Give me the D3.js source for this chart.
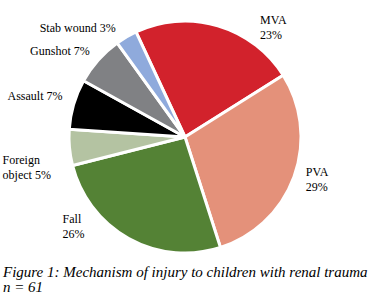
<!DOCTYPE html>
<html>
<head>
<meta charset="utf-8">
<script src="https://cdn.jsdelivr.net/npm/d3@7"></script>
<style>
  body { margin: 0; background: #fff; }
</style>
</head>
<body>
<div id="chart"></div>
<script>
// categories and their shares (%), clockwise from MVA
const categories = ["MVA", "PVA", "Fall", "Foreign object", "Assault", "Gunshot", "Stab wound"];
const shares = [23, 29, 26, 5, 7, 7, 3];
const labelLines = [
    ["MVA", "23%"],
    ["PVA", "29%"],
    ["Fall", "26%"],
    ["Foreign", "object 5%"],
    ["Assault 7%"],
    ["Gunshot 7%"],
    ["Stab wound 3%"],
];
const captionLines = ["Figure 1: Mechanism of injury to children with renal trauma", "n = 61"];

const colors = ["#d2222c", "#e4917a", "#548235", "#b4c3a2", "#000000", "#808184", "#8faadc"];

// label shifts from the slice centroid (label ring)
const nudge = {
    "MVA": [37, 17],
    "PVA": [-6, -7],
    "Fall": [-57, -32],
    "Foreign object": [-48, 15],
    "Assault": [-48, 1],
    "Gunshot": [-54, 8],
    "Stab wound": [-77, 11],
};

const font = "'Liberation Serif', 'Times New Roman', Times, serif";
const width = 381, height = 302;
const cx = 185, cy = 137, radius = 116;

const svg = d3.select("#chart")
    .append("svg")
    .attr("width", width)
    .attr("height", height);

const data = categories.map((c, i) => ({ name: c, value: shares[i], lines: labelLines[i], color: colors[i] }));

const pie = d3.pie()
    .sort(null)
    .value((d) => d.value)
    .startAngle(-25 * Math.PI / 180)
    .endAngle((360 - 25) * Math.PI / 180);

const arc = d3.arc().innerRadius(0).outerRadius(radius);
const labelArc = d3.arc().innerRadius(135).outerRadius(135);

const g = svg.append("g").attr("transform", `translate(${cx},${cy})`);

const arcs = pie(data);

g.selectAll("path.slice")
    .data(arcs)
    .join("path")
    .attr("class", "slice")
    .attr("d", arc)
    .attr("fill", (d) => d.data.color)
    .attr("stroke", "#fff")
    .attr("stroke-width", 3)
    .attr("stroke-linejoin", "round");

const labels = g.selectAll("text.lbl")
    .data(arcs)
    .join("text")
    .attr("class", "lbl")
    .attr("font-family", font)
    .attr("font-size", 12)
    .attr("fill", "#000")
    .attr("transform", (d) => {
        const c = labelArc.centroid(d);
        const n = nudge[d.data.name];
        return `translate(${c[0] + n[0]},${c[1] + n[1]})`;
    });

labels.selectAll("tspan")
    .data((d) => d.data.lines)
    .join("tspan")
    .attr("x", 0)
    .attr("dy", (d, i) => (i === 0 ? 0 : 15))
    .text((d) => d);

// caption, one text per line
svg.selectAll("text.caption")
    .data(captionLines)
    .join("text")
    .attr("class", "caption")
    .attr("x", 3)
    .attr("y", (d, i) => 277 + i * 15)
    .attr("font-family", font)
    .attr("font-size", 15)
    .attr("font-style", "italic")
    .attr("fill", "#000")
    .text((d) => d);
</script>
</body>
</html>
